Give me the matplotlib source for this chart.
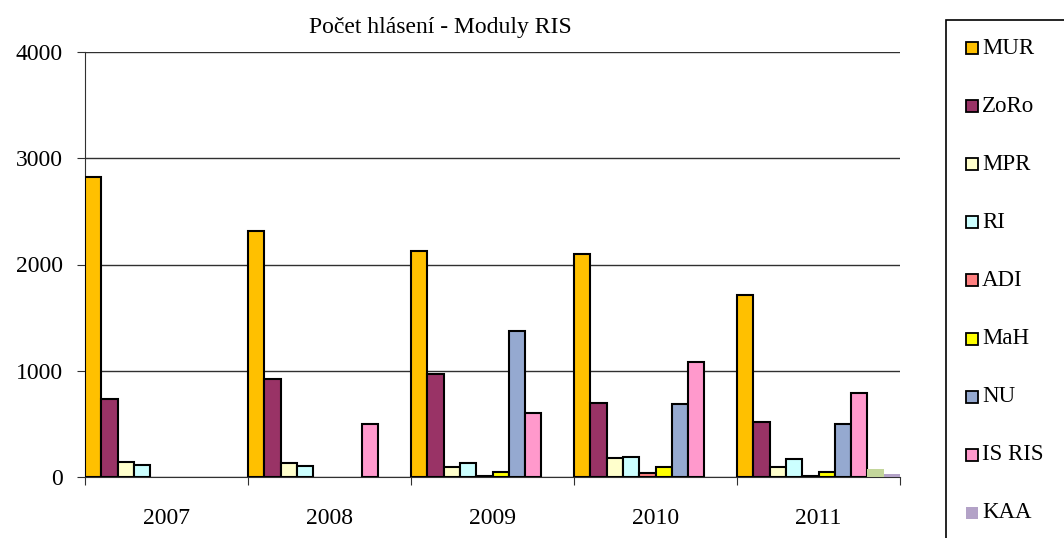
import numpy as np
import matplotlib.pyplot as plt
from matplotlib.patches import Rectangle

plt.rcParams['font.family'] = ['Liberation Serif', 'DejaVu Serif']

years = ['2007', '2008', '2009', '2010', '2011']
series = ['MUR', 'ZoRo', 'MPR', 'RI', 'ADI', 'MaH', 'NU', 'IS RIS', '', 'KAA']
mur = [2820, 2315, 2125, 2100, 1712]
zoro = [735, 922, 965, 692, 518]
mpr = [143, 128, 97, 175, 97]
ri = [112, 103, 135, 190, 166]
adi = [0, 0, 5, 40, 14]
mah = [0, 0, 44, 90, 46]
nu = [0, 0, 1373, 684, 496]
isris = [0, 498, 604, 1085, 792]
other = [0, 0, 0, 0, 75]
kaa = [0, 0, 0, 0, 28]
values = [mur, zoro, mpr, ri, adi, mah, nu, isris, other, kaa]

colors = ['#FFC000', '#993366', '#FFFFCC', '#CCFFFF', '#FF8080',
          '#FFFF00', '#95A9D0', '#FF99CC', '#C3D69B', '#B3A2C7']
edged = [True] * 8 + [False, False]

fig = plt.figure(figsize=(10.64, 5.38), dpi=100)
ax = fig.add_axes([85 / 1064, 1 - 477 / 538, 815 / 1064, 425 / 538])

n = len(series)
w = 1.0 / n
x = np.arange(len(years))
for i in range(n):
    vals = np.array(values[i])
    mask = vals > 0
    ax.bar(x[mask] + i * w, vals[mask], width=w, align='edge', color=colors[i],
           edgecolor='black' if edged[i] else colors[i],
           linewidth=1.5 if edged[i] else 0, zorder=3)

ax.set_xlim(0, len(years))
ax.set_ylim(0, 4000)
ax.set_yticks([0, 1000, 2000, 3000, 4000])
ax.yaxis.grid(True, color='#303030', linewidth=1.0, zorder=0)
ax.set_xticks(np.arange(len(years) + 1))
ax.set_xticklabels([])
ax.set_xticks(x + 0.5, minor=True)
ax.set_xticklabels(years, minor=True)
ax.tick_params(axis='x', which='minor', length=0, pad=22, labelsize=17)
ax.tick_params(axis='x', which='major', length=6, color='#303030')
ax.tick_params(axis='y', length=6, labelsize=17, pad=10, color='#303030')
for s in ['top', 'right']:
    ax.spines[s].set_visible(False)
ax.spines['left'].set_color('#303030')
ax.spines['bottom'].set_color('#303030')

fig.text(440 / 1064, 1 - 27 / 538, 'Počet hlásení - Moduly RIS', ha='center',
         va='center', fontsize=17)

# legend box, cut by the bottom of the figure
fig.patches.append(Rectangle((946 / 1064, -0.05), 200 / 1064, 1 - 20 / 538 + 0.05,
                             transform=fig.transFigure, facecolor='white',
                             edgecolor='black', linewidth=1.2))
order = [0, 1, 2, 3, 4, 5, 6, 7, 9]
for k, i in enumerate(order):
    yc = 1 - (48 + k * 58.1) / 538
    fig.patches.append(Rectangle((966 / 1064, yc - 6 / 538), 12 / 1064, 12 / 538,
                                 transform=fig.transFigure, facecolor=colors[i],
                                 edgecolor='black' if edged[i] else colors[i],
                                 linewidth=1.3 if edged[i] else 0))
    fig.text(982 / 1064, yc, series[i], ha='left', va='center', fontsize=16.5)

fig.savefig('out.png', dpi=100)
